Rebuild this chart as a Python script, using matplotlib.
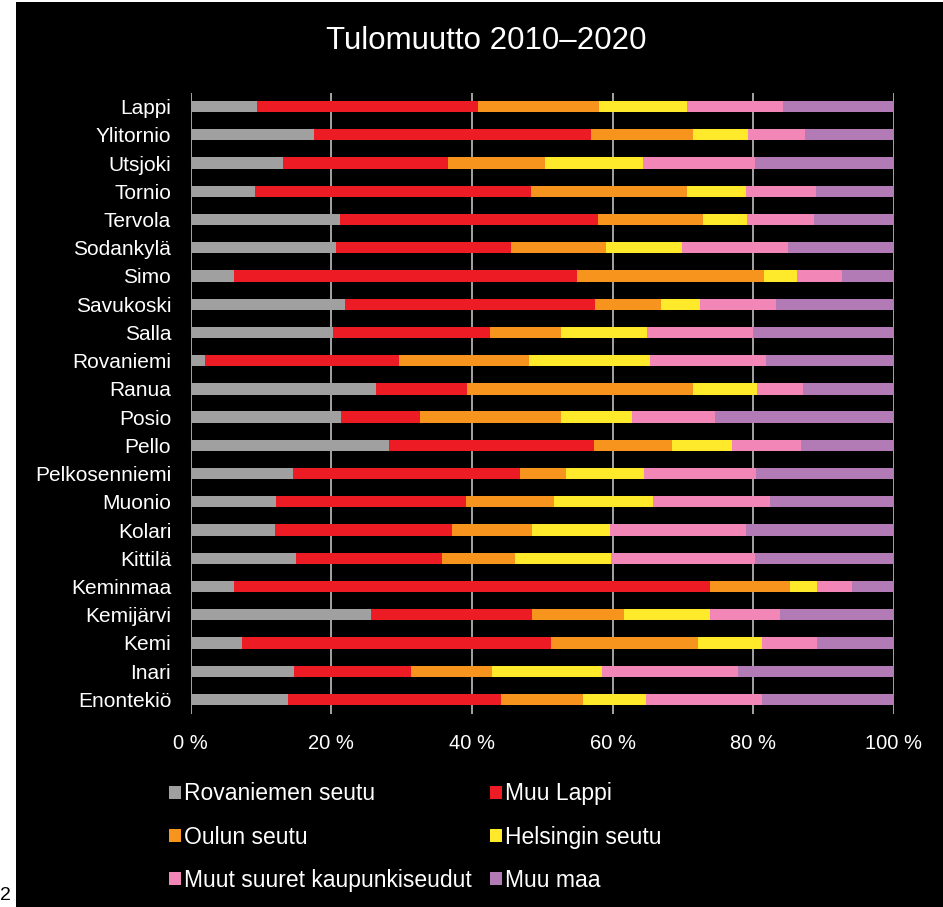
import numpy as np
import matplotlib
matplotlib.use('Agg')
import matplotlib.pyplot as plt
from matplotlib.patches import Rectangle, Patch

plt.rcParams['font.family'] = ['Liberation Sans', 'DejaVu Sans']

# municipalities, top to bottom
areas = [
    'Lappi', 'Ylitornio', 'Utsjoki', 'Tornio', 'Tervola', 'Sodankylä',
    'Simo', 'Savukoski', 'Salla', 'Rovaniemi', 'Ranua', 'Posio', 'Pello',
    'Pelkosenniemi', 'Muonio', 'Kolari', 'Kittilä', 'Keminmaa',
    'Kemijärvi', 'Kemi', 'Inari', 'Enontekiö',
]

# share of in-migration (%) by origin
rovaniemen_seutu = [9.4, 17.5, 13.2, 9.1, 21.2, 20.7, 6.2, 21.9, 20.3, 2.1, 26.4,
                    21.4, 28.2, 14.5, 12.1, 12.0, 15.0, 6.2, 25.7, 7.3, 14.7, 13.8]
muu_lappi = [31.5, 39.4, 23.4, 39.3, 36.7, 24.9, 48.8, 35.6, 22.3, 27.5, 12.9,
             11.2, 29.2, 32.3, 27.0, 25.2, 20.7, 67.6, 22.9, 44.0, 16.7, 30.3]
oulun_seutu = [17.2, 14.5, 13.8, 22.2, 15.0, 13.4, 26.5, 9.4, 10.0, 18.5, 32.1,
               20.0, 11.0, 6.6, 12.5, 11.3, 10.4, 11.4, 13.0, 20.8, 11.4, 11.7]
helsingin_seutu = [12.5, 7.9, 13.9, 8.3, 6.2, 10.8, 4.7, 5.5, 12.3, 17.2, 9.1,
                   10.2, 8.5, 11.1, 14.2, 11.1, 13.6, 3.8, 12.2, 9.1, 15.7, 9.0]
muut_suuret = [13.6, 8.1, 16.0, 10.0, 9.5, 15.1, 6.4, 10.8, 15.1, 16.5, 6.6,
               11.8, 9.9, 15.9, 16.6, 19.4, 20.5, 5.0, 10.0, 7.8, 19.3, 16.4]
muu_maa = [15.8, 12.6, 19.7, 11.1, 11.4, 15.1, 7.4, 16.8, 20.0, 18.2, 12.9,
           25.4, 13.2, 19.6, 17.6, 21.0, 19.8, 6.0, 16.2, 11.0, 22.2, 18.8]

series = [
    ('Rovaniemen seutu', rovaniemen_seutu, '#a0a0a0'),
    ('Muu Lappi', muu_lappi, '#ed1c24'),
    ('Oulun seutu', oulun_seutu, '#f7941d'),
    ('Helsingin seutu', helsingin_seutu, '#ffe92b'),
    ('Muut suuret kaupunkiseudut', muut_suuret, '#f287b7'),
    ('Muu maa', muu_maa, '#b37bb5'),
]

fig = plt.figure(figsize=(9.43, 9.07), dpi=100, facecolor='white')

# black slide background
fig.patches.append(Rectangle((16 / 943, 0), 1, 1 - 2 / 907, transform=fig.transFigure,
                             facecolor='black', edgecolor='none', zorder=-10))

ax = fig.add_axes([190.6 / 943, 1 - 713.5 / 907, 703.4 / 943, 621 / 907])
ax.set_facecolor('black')

y = np.arange(len(areas))
left = np.zeros(len(areas))
handles = []
for name, vals, col in series:
    vals = np.array(vals)
    ax.barh(y, vals, left=left, height=0.4, color=col, edgecolor='none', zorder=3)
    left += vals
    handles.append(Patch(facecolor=col, edgecolor='none', label=name))

ax.set_xlim(0, 100)
ax.set_ylim(len(areas) - 0.5, -0.5)
ax.set_yticks(y)
ax.set_yticklabels(areas)
ax.set_xticks(np.arange(0, 101, 20))
ax.set_xticklabels(['{} %'.format(v) for v in range(0, 101, 20)])
ax.tick_params(axis='y', length=0, pad=14, labelsize=15, colors='white')
ax.tick_params(axis='x', length=0, pad=15, labelsize=14.5, colors='white')
ax.grid(axis='x', color='#d0d0d0', linewidth=1.1, zorder=0)
for s in ax.spines.values():
    s.set_visible(False)

fig.text(486.5 / 943, 1 - 41 / 907, 'Tulomuutto 2010–2020', color='white',
         fontsize=22.5, ha='center', va='center')

# legend is filled row by row in the reference
order = [0, 2, 4, 1, 3, 5]
fig.legend(handles=[handles[i] for i in order], ncol=2, loc='upper left',
           bbox_to_anchor=(158 / 943, 1 - 771 / 907), frameon=False,
           fontsize=16.5, labelcolor='white', handlelength=0.5, handleheight=0.5,
           handletextpad=0.15, labelspacing=0.88, columnspacing=0.8, borderpad=0)

# page number
fig.text(0.0, 1 - 896 / 907, '2', color='black', fontsize=14, ha='left', va='center')

fig.savefig('out.png', dpi=100, facecolor='white')
